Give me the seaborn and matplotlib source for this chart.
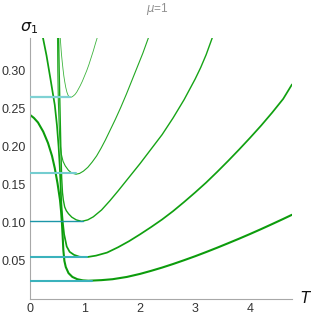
import numpy as np
import pandas as pd
import matplotlib
matplotlib.use("Agg")
import matplotlib.pyplot as plt
from matplotlib.ticker import MultipleLocator, FormatStrFormatter
import seaborn as sns

# ---- data (T, sigma_1) ----
curve_a_T = [0.55, 0.56, 0.57, 0.585, 0.60, 0.615, 0.63, 0.65, 0.67, 0.69, 0.71, 0.73,
             0.76, 0.79, 0.82, 0.85, 0.88, 0.91, 0.95, 0.99, 1.03, 1.07, 1.11, 1.15, 1.19, 1.22]
curve_a_s = [0.343, 0.333, 0.323, 0.312, 0.302, 0.293, 0.286, 0.278, 0.272, 0.268, 0.2658, 0.265,
             0.2655, 0.267, 0.269, 0.272, 0.276, 0.280, 0.286, 0.293, 0.300, 0.308, 0.317, 0.326, 0.336, 0.343]

curve_b_T = [0.50, 0.505, 0.515, 0.53, 0.545, 0.57, 0.60, 0.64, 0.70, 0.76, 0.836,
             0.90, 0.97, 1.05, 1.13, 1.21, 1.29, 1.37, 1.45, 1.55, 1.65, 1.75, 1.85, 1.95, 2.05, 2.15]
curve_b_s = [0.343, 0.300, 0.260, 0.228, 0.205, 0.190, 0.181, 0.175, 0.169, 0.1655, 0.164,
             0.165, 0.168, 0.173, 0.180, 0.188, 0.198, 0.209, 0.221, 0.236, 0.252, 0.269, 0.287, 0.305, 0.323, 0.343]

curve_c_T = [0.52, 0.53, 0.545, 0.56, 0.575, 0.59, 0.606, 0.63, 0.66, 0.70, 0.76, 0.84, 0.94,
             1.05, 1.15, 1.30, 1.45, 1.60, 1.80, 2.00, 2.20, 2.40, 2.60, 2.80, 3.00, 3.10, 3.20, 3.31]
curve_c_s = [0.343, 0.300, 0.250, 0.200, 0.160, 0.140, 0.130, 0.121, 0.116, 0.112, 0.1075, 0.104, 0.102,
             0.104, 0.108, 0.117, 0.129, 0.142, 0.160, 0.178, 0.197, 0.216, 0.238, 0.262, 0.289, 0.304, 0.321, 0.343]

curve_d_T = [0.236, 0.30, 0.37, 0.42, 0.45, 0.49, 0.52, 0.54, 0.555, 0.57, 0.585, 0.60, 0.62, 0.667, 0.72, 0.80, 0.90, 1.03,
             1.20, 1.40, 1.60, 1.80, 2.00, 2.20, 2.40, 2.60, 2.80, 3.00, 3.20, 3.40, 3.60, 3.80, 4.00, 4.20, 4.40, 4.60, 4.76]
curve_d_s = [0.343, 0.320, 0.290, 0.268, 0.255, 0.228, 0.200, 0.175, 0.150, 0.125, 0.110, 0.098, 0.085, 0.069, 0.062, 0.058, 0.0555, 0.055,
             0.057, 0.061, 0.068, 0.076, 0.085, 0.0945, 0.1045, 0.1155, 0.1275, 0.140, 0.153, 0.167, 0.1815, 0.1965, 0.212, 0.228, 0.245, 0.263, 0.282]

curve_e_T = [0.0, 0.07, 0.145, 0.24, 0.327, 0.40, 0.45, 0.50, 0.545, 0.565, 0.58, 0.595, 0.606, 0.625, 0.65, 0.70, 0.77, 0.86, 0.96, 1.06,
             1.30, 1.50, 1.76, 2.00, 2.20, 2.40, 2.60, 2.80, 3.00, 3.20, 3.40, 3.60, 3.80, 4.00, 4.20, 4.40, 4.60, 4.76]
curve_e_s = [0.242, 0.238, 0.232, 0.220, 0.205, 0.188, 0.172, 0.152, 0.130, 0.115, 0.100, 0.080, 0.064, 0.050, 0.042, 0.034, 0.029, 0.026, 0.0245, 0.024,
             0.0248, 0.026, 0.029, 0.033, 0.037, 0.0413, 0.046, 0.051, 0.0562, 0.0617, 0.0674, 0.0733, 0.0793, 0.0855, 0.0919, 0.0985, 0.1052, 0.1107]

# horizontal cyan segments (from T=0 to the minimum)
cyan_sigma = [0.265, 0.165, 0.103, 0.055, 0.024]
cyan_T_end = [0.73, 0.83, 0.96, 1.04, 1.12]

x_ticks = [0, 1, 2, 3, 4]
y_ticks = [0.05, 0.10, 0.15, 0.20, 0.25, 0.30]

curves = [(curve_a_T, curve_a_s), (curve_b_T, curve_b_s), (curve_c_T, curve_c_s),
          (curve_d_T, curve_d_s), (curve_e_T, curve_e_s)]
widths = [0.6, 0.8, 1.0, 1.25, 1.5]
greens = ['#3cb43c', '#22a822', '#16a416', '#10a010', '#0c9c0c']
cyans = ['#7fd2d4', '#74cdd0', '#1c96a8', '#3ab2bc', '#3ab2bc']
cyan_widths = [1.6, 1.5, 1.0, 1.5, 1.5]

# ---- style ----
sns.set_style("white")
plt.rcParams['font.family'] = ['Liberation Sans', 'DejaVu Sans']
plt.rcParams['mathtext.fontset'] = 'dejavusans'

fig, ax = plt.subplots(figsize=(3.11, 3.18), dpi=100)
fig.subplots_adjust(left=30/311, right=292/311, bottom=19/318, top=280/318)

for i, (T, s) in enumerate(curves):
    df = pd.DataFrame({'T': T, 'sigma': s})
    sns.lineplot(data=df, x='T', y='sigma', sort=False, estimator=None,
                 color=greens[i], linewidth=widths[i], ax=ax, zorder=2)

for i in range(len(cyan_sigma)):
    cdf = pd.DataFrame({'T': [0, cyan_T_end[i]], 'sigma': [cyan_sigma[i], cyan_sigma[i]]})
    sns.lineplot(data=cdf, x='T', y='sigma', color=cyans[i], linewidth=cyan_widths[i],
                 ax=ax, zorder=3)

ax.set_xlim(0, 4.76)
ax.set_ylim(0, 0.343)
ax.set_xlabel('')
ax.set_ylabel('')

for side in ['top', 'right']:
    ax.spines[side].set_visible(False)
for side in ['left', 'bottom']:
    ax.spines[side].set_color('#a8a8a8')
    ax.spines[side].set_linewidth(0.8)

ax.set_xticks(x_ticks)
ax.set_yticks(y_ticks)
ax.yaxis.set_major_formatter(FormatStrFormatter('%.2f'))
ax.xaxis.set_minor_locator(MultipleLocator(0.2))
ax.yaxis.set_minor_locator(MultipleLocator(0.01))
ax.tick_params(which='major', direction='in', length=3.5, width=0.6, color='#a0a0a0',
               labelsize=9, labelcolor='#333333', pad=3)
ax.tick_params(which='minor', direction='in', length=2, width=0.5, color='#b0b0b0')

fig.text(157/311, 1 - 9/318, r'$\mu$=1', ha='center', va='center', fontsize=8.5, color='#909090')
fig.text(29/311, 1 - 28/318, r'$\sigma_1$', ha='center', va='center', fontsize=11.5, color='#111111')
fig.text(306/311, 1 - 298/318, r'$T$', ha='center', va='center', fontsize=11, color='#111111')

fig.savefig('out.png', dpi=100)
